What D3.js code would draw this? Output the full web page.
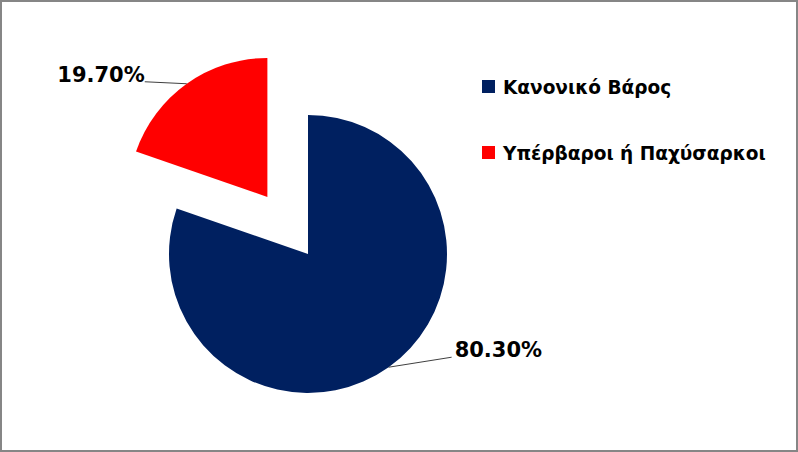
<!DOCTYPE html>
<html>
<head>
<meta charset="utf-8">
<script src="https://cdn.jsdelivr.net/npm/d3@7"></script>
<style>
  body { margin: 0; background: #fff; }
  svg text { font-family: "DejaVu Sans", sans-serif; font-weight: bold; fill: #000; }
</style>
</head>
<body>
<div id="chart"></div>
<script>
/* Pie chart: normal weight vs overweight */

const categories = ["Κανονικό Βάρος", "Υπέρβαροι ή Παχύσαρκοι"];
const values = [80.3, 19.7];
const labels = ["80.30%", "19.70%"];
const colors = ["#002060", "#FF0000"];
const exploded = [0, 70];

const width = 798,
      height = 452,
      cx = 308,
      cy = 254,
      radius = 139;

let svg = d3.select("#chart")
            .append("svg")
            .attr("width", width)
            .attr("height", height);

svg.append("rect")
    .attr("x", 1)
    .attr("y", 1)
    .attr("width", width - 2)
    .attr("height", height - 2)
    .attr("fill", "#fff")
    .attr("stroke", "#868686")
    .attr("stroke-width", 2);

const data = categories.map((c, i) => ({ name: c, value: values[i], label: labels[i], i: i }));

const pie = d3.pie()
    .sort(null)
    .value(d => d.value);

const arc = d3.arc()
    .innerRadius(0)
    .outerRadius(radius);

const arcs = pie(data);

// offset of each slice along its mid angle
const shift = d => {
    const a = (d.startAngle + d.endAngle) / 2;
    const r = exploded[d.data.i];
    return [r * Math.sin(a), -r * Math.cos(a)];
};

const g = svg.append("g")
    .attr("transform", `translate(${cx},${cy})`);

const slice = g.selectAll("g.slice")
    .data(arcs)
    .join("g")
    .attr("class", "slice")
    .attr("transform", d => `translate(${shift(d)})`);

slice.append("path")
    .attr("d", arc)
    .attr("fill", d => colors[d.data.i]);

// leader lines and labels (label placement as dragged in the original)
const labelOffset = [[63, -10], [-42, -2]];
const anchor = ["start", "end"];

slice.each(function(d) {
    const a = (d.startAngle + d.endAngle) / 2;
    const x0 = radius * Math.sin(a),
          y0 = -radius * Math.cos(a);
    const off = labelOffset[d.data.i];
    const x1 = x0 + off[0],
          y1 = y0 + off[1];
    const s = d3.select(this);
    s.append("line")
        .attr("x1", x0).attr("y1", y0)
        .attr("x2", x1).attr("y2", y1)
        .attr("stroke", "#404040")
        .attr("stroke-width", 1);
    s.append("text")
        .attr("x", x1 + (anchor[d.data.i] === "start" ? 3 : 0))
        .attr("y", y1 - 6)
        .attr("text-anchor", anchor[d.data.i])
        .attr("dominant-baseline", "middle")
        .style("font-size", "21px")
        .text(d.data.label);
});

// legend
const legend = svg.append("g")
    .attr("transform", "translate(482,80)");

const item = legend.selectAll("g")
    .data(data)
    .join("g")
    .attr("transform", (d, i) => `translate(0,${i * 66})`);

item.append("rect")
    .attr("width", 13)
    .attr("height", 13)
    .attr("fill", d => colors[d.i]);

item.append("text")
    .attr("x", 21)
    .attr("y", 13.5)
    .style("font-size", "18.5px")
    .text(d => d.name);
</script>
</body>
</html>
